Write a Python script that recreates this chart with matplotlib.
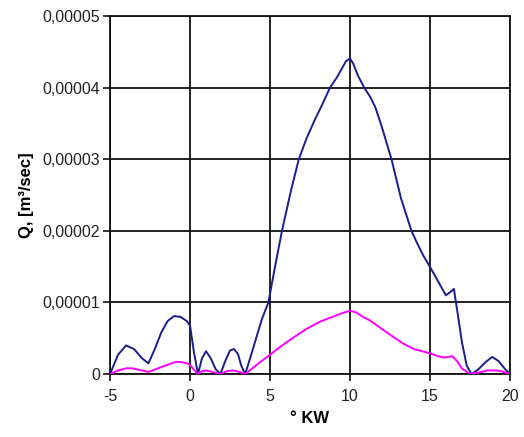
import matplotlib
matplotlib.use("Agg")
import matplotlib.pyplot as plt
from matplotlib.ticker import FuncFormatter, MultipleLocator

# Durchfluss je Kalenderwoche (Werte in 1e-5 m³/sec)
kw_blue = [-5, -4.5, -4, -3.5, -3, -2.6, -2.2, -1.8, -1.4, -1.0, -0.6, -0.2, 0,
           0.25, 0.5, 0.75, 1.0, 1.3, 1.6, 1.9, 2.2, 2.5, 2.75, 3.0, 3.2, 3.45,
           3.8, 4.2, 4.5, 4.9, 5.3, 5.75, 6.3, 6.8, 7.3, 7.8, 8.3, 8.75, 9.2,
           9.5, 9.75, 10.0, 10.2, 10.5, 10.9, 11.3, 11.6, 12.0, 12.6, 13.2,
           13.85, 14.2, 14.6, 15.0, 15.5, 16.0, 16.3, 16.5, 16.7, 17.0, 17.3,
           17.6, 18.0, 18.5, 18.9, 19.3, 19.7, 20]
q_blue = [0, 0.27, 0.40, 0.35, 0.22, 0.15, 0.35, 0.58, 0.74, 0.81, 0.80, 0.74,
          0.68, 0.30, 0.0, 0.22, 0.32, 0.22, 0.07, 0.0, 0.18, 0.33, 0.35, 0.28,
          0.12, 0.0, 0.25, 0.55, 0.77, 1.0, 1.48, 2.0, 2.55, 3.0, 3.3, 3.55,
          3.78, 4.0, 4.15, 4.27, 4.37, 4.41, 4.34, 4.17, 4.0, 3.86, 3.72, 3.45,
          3.0, 2.45, 2.0, 1.83, 1.65, 1.5, 1.3, 1.1, 1.15, 1.19, 0.9, 0.45,
          0.12, 0.0, 0.06, 0.17, 0.24, 0.18, 0.07, 0]

kw_pink = [-5, -4.5, -4, -3.6, -3, -2.6, -2, -1.4, -0.9, -0.6, -0.2, 0, 0.25,
           0.5, 0.75, 1.0, 1.4, 1.9, 2.3, 2.7, 3.1, 3.45, 3.9, 4.4, 5.0, 5.7,
           6.4, 7.2, 8.1, 8.8, 9.5, 10.0, 10.4, 10.8, 11.25, 12.0, 12.7, 13.3,
           14.0, 15.0, 15.5, 15.9, 16.4, 16.7, 17.0, 17.5, 18.0, 18.6, 19.2,
           19.6, 20]
q_pink = [0, 0.05, 0.08, 0.08, 0.05, 0.03, 0.08, 0.13, 0.17, 0.17, 0.15, 0.13,
          0.06, 0.0, 0.04, 0.05, 0.03, 0.0, 0.04, 0.05, 0.03, 0.0, 0.08, 0.17,
          0.27, 0.39, 0.50, 0.62, 0.73, 0.79, 0.85, 0.885, 0.86, 0.80, 0.75,
          0.63, 0.52, 0.43, 0.35, 0.29, 0.25, 0.23, 0.25, 0.18, 0.08, 0.0,
          0.02, 0.05, 0.05, 0.03, 0]

scale = 1e-5

plt.rcParams["font.family"] = ["Liberation Sans", "DejaVu Sans"]

fig = plt.figure(figsize=(5.24, 4.37), dpi=100)
ax = fig.add_axes([0.21, 0.144, 0.763, 0.819])

ax.plot(kw_blue, [v * scale for v in q_blue], color="#1c1c8c", lw=1.4,
        zorder=3, solid_joinstyle="round")
ax.plot(kw_pink, [v * scale for v in q_pink], color="#ff00ff", lw=1.4,
        zorder=3, solid_joinstyle="round")

ax.set_xlim(-5, 20)
ax.set_ylim(0, 0.00005)
ax.xaxis.set_major_locator(MultipleLocator(5))
ax.yaxis.set_major_locator(MultipleLocator(0.00001))


def komma(v, pos):
    if abs(v) < 1e-12:
        return "0"
    return f"{v:.5f}".replace(".", ",")


ax.yaxis.set_major_formatter(FuncFormatter(komma))
ax.xaxis.set_major_formatter(FuncFormatter(lambda v, p: f"{v:g}"))

ax.grid(True, color="#111111", lw=1.3)
ax.set_axisbelow(True)
for s in ax.spines.values():
    s.set_color("#111111")
    s.set_linewidth(1.3)

ax.tick_params(direction="out", length=5, width=1.2, color="#111111",
               labelsize=11.5, labelcolor="#222222")
ax.tick_params(axis="x", pad=6)
ax.tick_params(axis="y", pad=2)

ax.set_xlabel("° KW", fontsize=12, fontweight="bold", labelpad=5)
ax.set_ylabel("Q, [m³/sec]", fontsize=12, fontweight="bold", labelpad=6)

fig.savefig("out.png", dpi=100)
